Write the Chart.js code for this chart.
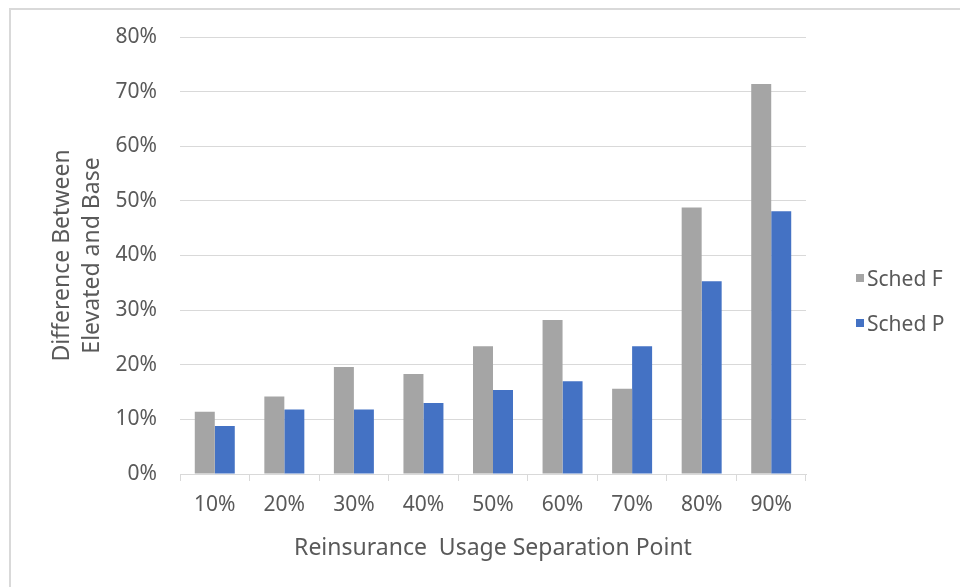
<!DOCTYPE html>
<html>
<head>
<meta charset="utf-8">
<script src="https://cdn.jsdelivr.net/npm/chart.js@4"></script>
<style>
  html, body { margin: 0; padding: 0; background: #fff; }
  #wrap { position: relative; width: 960px; height: 587px; overflow: hidden; }
  #frame { position: absolute; left: 9px; top: 8px; width: 980px; height: 620px; border-left: 2px solid #d9d9d9; border-top: 2px solid #d9d9d9; }
  #chart { position: absolute; left: 0; top: 0; }
  #legend { position: absolute; left: 856px; top: 263px; font-family: "Noto Sans", sans-serif; font-size: 21px; color: #595959; }
  #legend .item { display: flex; align-items: center; height: 30px; margin-bottom: 15px; }
  #legend .sw { width: 8px; height: 8px; margin-right: 3px; }
</style>
</head>
<body>
<div id="wrap">
  <div id="frame"></div>
  <canvas id="chart" width="960" height="587"></canvas>
  <div id="legend"></div>
</div>
<script>
const categories = ["10%", "20%", "30%", "40%", "50%", "60%", "70%", "80%", "90%"];
const schedF = [11.4, 14.2, 19.6, 18.3, 23.4, 28.2, 15.6, 48.8, 71.4];
const schedP = [8.8, 11.8, 11.8, 13.0, 15.4, 17.0, 23.4, 35.3, 48.1];
const yTicks = [0, 10, 20, 30, 40, 50, 60, 70, 80];

const FONT = "'Noto Sans', sans-serif";
const TEXT = "#595959";

const chart = new Chart(document.getElementById("chart"), {
  type: "bar",
  data: {
    labels: categories,
    datasets: [
      { label: "Sched F", data: schedF, backgroundColor: "#a5a5a5" },
      { label: "Sched P", data: schedP, backgroundColor: "#4472c4" },
    ],
  },
  options: {
    responsive: false,
    animation: false,
    layout: { padding: { left: 47, right: 154, top: 37, bottom: 20 } },
    datasets: { bar: { categoryPercentage: 0.575, barPercentage: 1 } },
    plugins: { legend: { display: false }, tooltip: { enabled: false } },
    scales: {
      x: {
        afterFit: (axis) => { axis.height = 93; },
        grid: { display: true, drawOnChartArea: false, drawTicks: true, tickLength: 7, color: "#d9d9d9", lineWidth: 1 },
        border: { display: true, color: "#d9d9d9", width: 1 },
        ticks: { color: TEXT, font: { family: FONT, size: 21 }, padding: 11 },
        title: { display: true, text: "Reinsurance  Usage Separation Point", color: TEXT, font: { family: FONT, size: 23 }, padding: { top: 0, bottom: 5 } },
      },
      y: {
        min: 0,
        max: 80,
        afterFit: (axis) => { axis.width = 133; },
        afterBuildTicks: (axis) => { axis.ticks = yTicks.map((v) => ({ value: v })); },
        grid: { color: "#d9d9d9", lineWidth: 1, drawTicks: false },
        border: { display: false },
        ticks: { color: TEXT, font: { family: FONT, size: 21 }, padding: 23, callback: (v) => v + "%" },
        title: { display: true, text: ["Difference Between", "Elevated and Base"], color: TEXT, font: { family: FONT, size: 23, lineHeight: "30px" }, padding: { top: 0, bottom: 0 } },
      },
    },
  },
});

// legend from the chart's datasets
const legend = document.getElementById("legend");
chart.data.datasets.forEach((ds) => {
  legend.insertAdjacentHTML("beforeend", `<div class="item"><span class="sw" style="background:${ds.backgroundColor}"></span>${ds.label}</div>`);
});
</script>
</body>
</html>
